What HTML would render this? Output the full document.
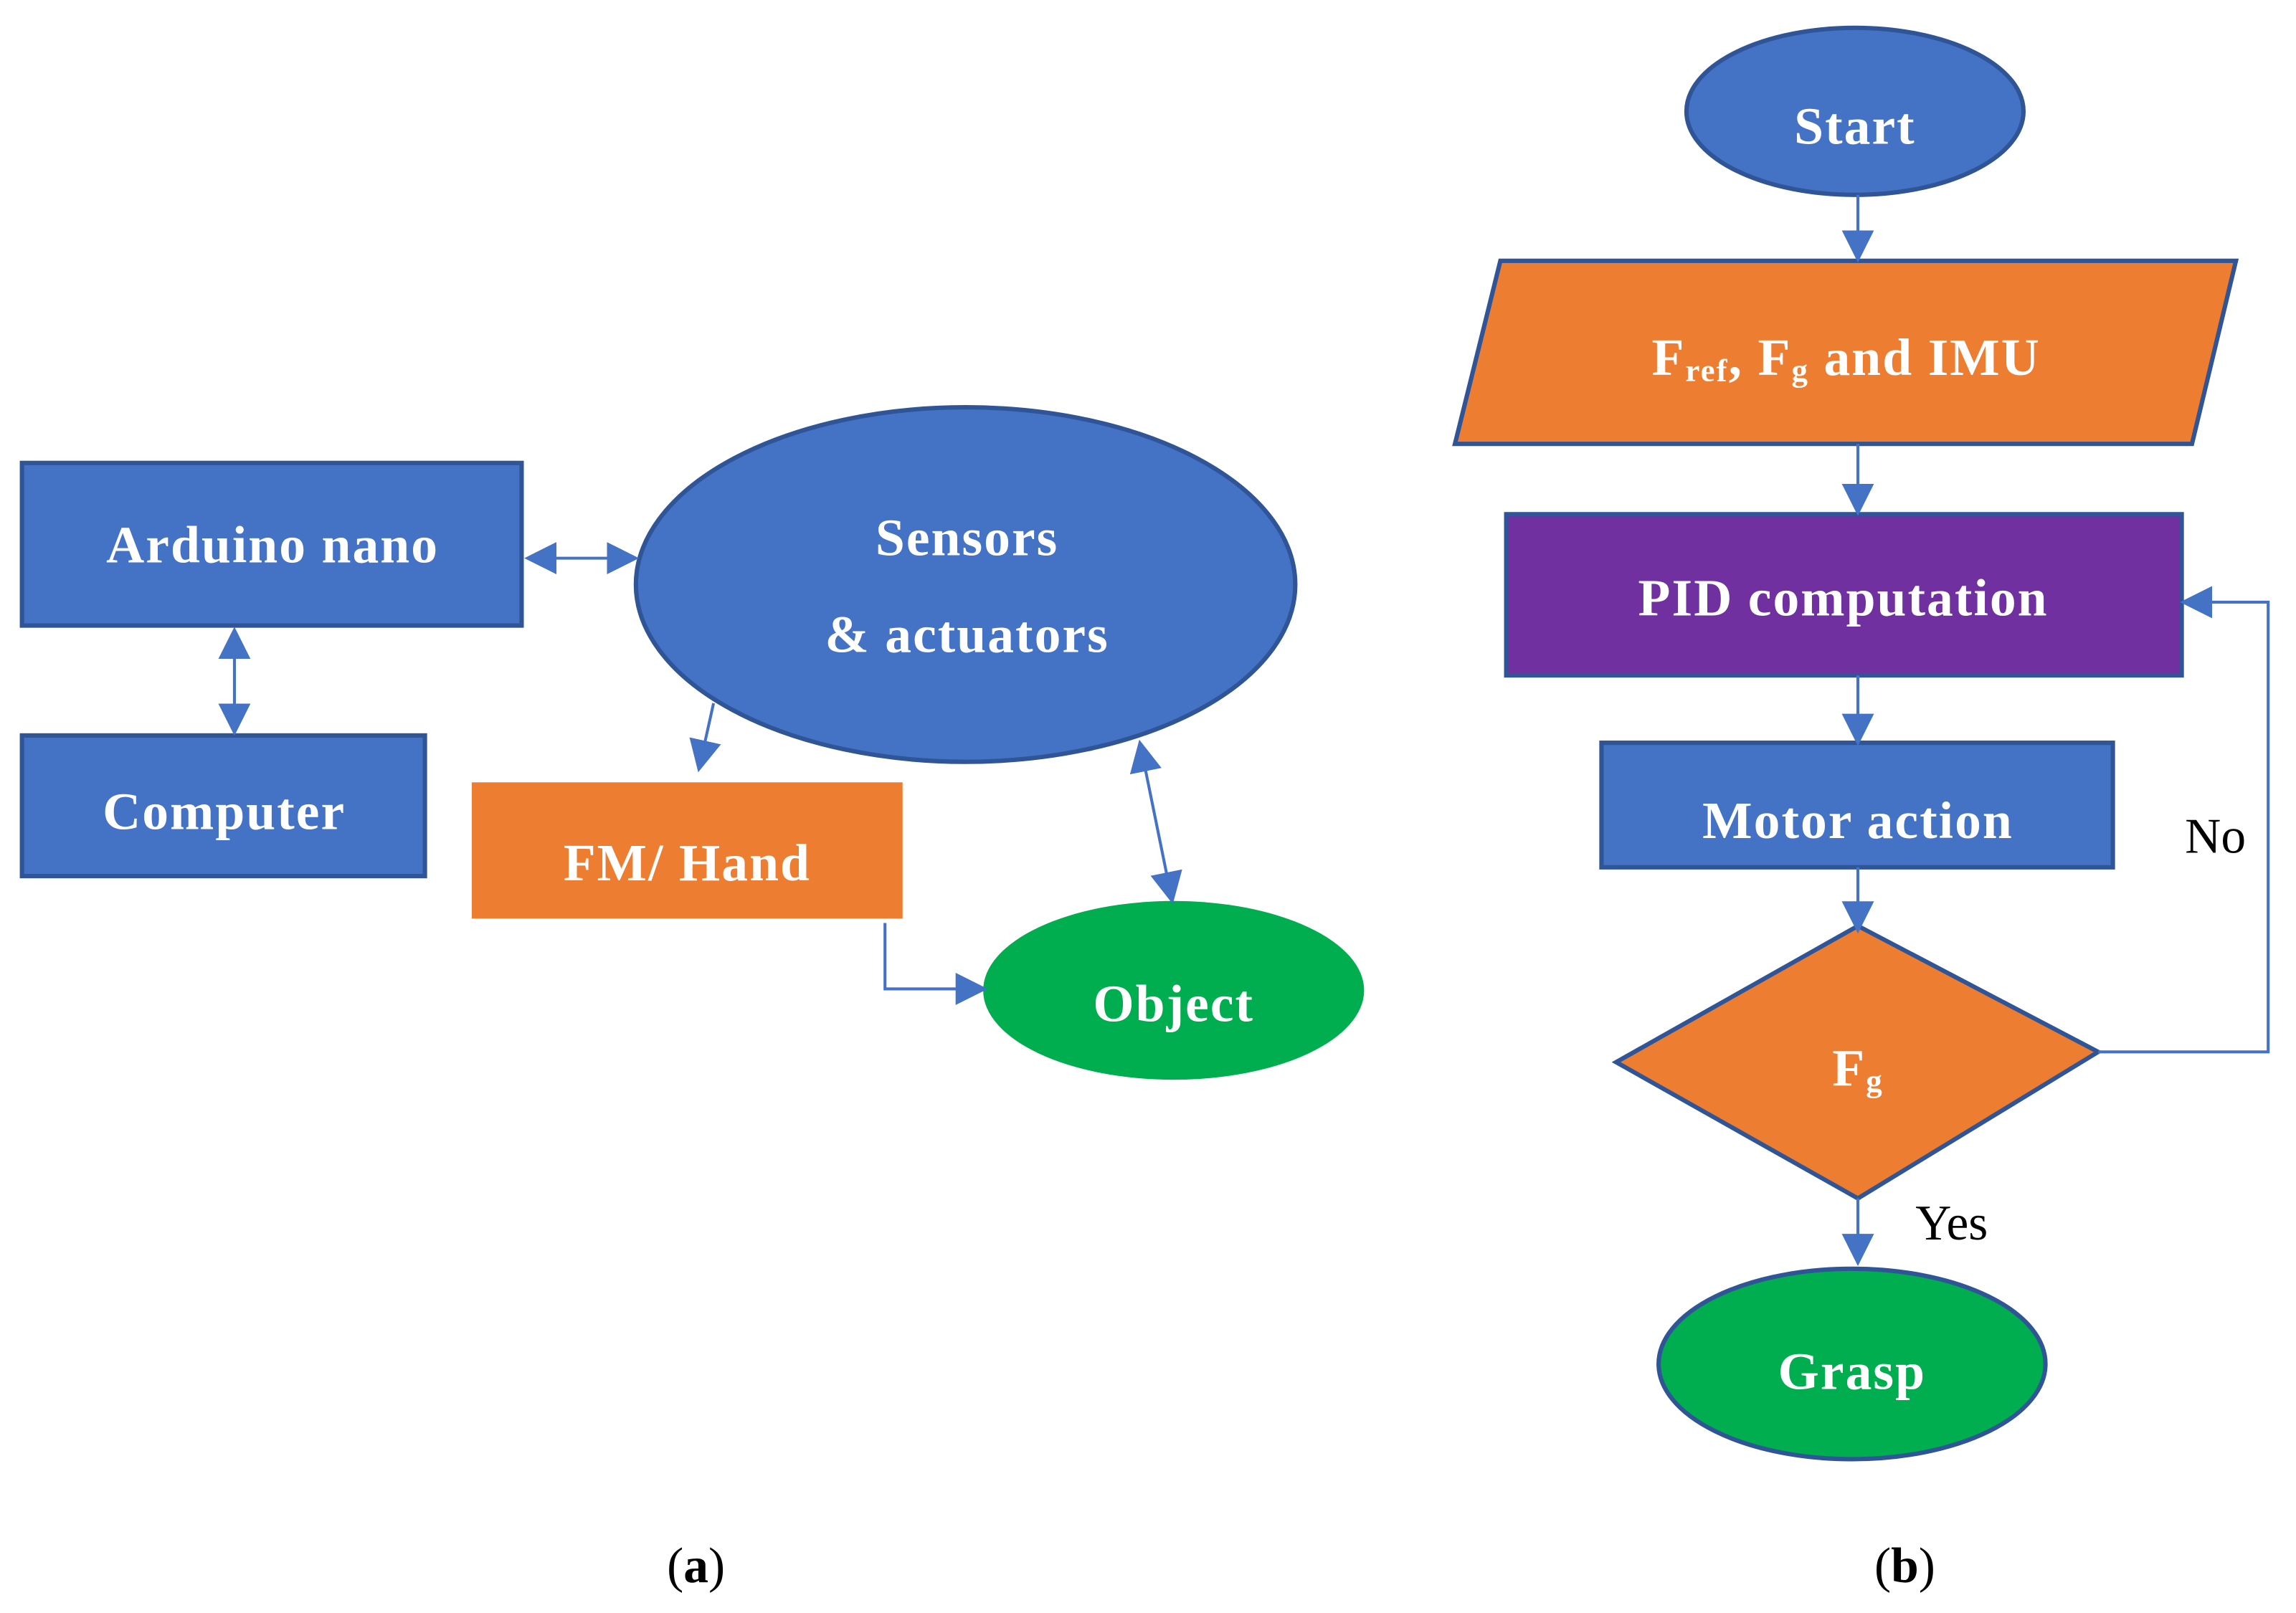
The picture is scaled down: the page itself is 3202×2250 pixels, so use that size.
<!DOCTYPE html>
<html><head><meta charset="utf-8"><style>html,body{margin:0;padding:0;background:#fff}svg{display:block}</style></head>
<body>
<svg width="3202" height="2250" viewBox="0 0 1567 1101" preserveAspectRatio="none" xmlns="http://www.w3.org/2000/svg" font-family="Liberation Serif, serif">
<defs>
<marker id="b" viewBox="0 0 10 10" refX="9" refY="5" markerWidth="22" markerHeight="22" orient="auto-start-reverse" markerUnits="userSpaceOnUse"><path d="M0,0 L10,5 L0,10z" fill="#4472C4"/></marker>
</defs>
<g stroke="#2F5597" stroke-width="3">
<rect x="15" y="316" width="341" height="111" fill="#4472C4"/>
<rect x="15" y="502" width="275" height="96" fill="#4472C4"/>
<ellipse cx="659" cy="399" rx="225" ry="121" fill="#4472C4"/>
<ellipse cx="1266" cy="76" rx="115" ry="57" fill="#4472C4"/>
<polygon points="1024,178 1526,178 1496,303 993,303" fill="#ED7D31"/>
<rect x="1028" y="351" width="461" height="110" fill="#7030A0"/>
<rect x="1093" y="507" width="349" height="85" fill="#4472C4"/>
<polygon points="1268,632 1432,718 1268,818 1103,725" fill="#ED7D31"/>
<ellipse cx="1264" cy="931" rx="132" ry="65" fill="#00AE4F"/>
</g>
<rect x="322" y="534" width="294" height="93" fill="#ED7D31"/>
<ellipse cx="801" cy="676" rx="130" ry="61" fill="#00AE4F"/>
<g stroke="#4472C4" stroke-width="2" fill="none">
<line x1="160" y1="430" x2="160" y2="500" marker-start="url(#b)" marker-end="url(#b)"/>
<line x1="360" y1="381" x2="434" y2="381" marker-start="url(#b)" marker-end="url(#b)"/>
<line x1="487" y1="480" x2="477" y2="525" marker-end="url(#b)"/>
<line x1="778" y1="507" x2="800" y2="615" marker-start="url(#b)" marker-end="url(#b)"/>
<polyline points="604,630 604,675 672,675" marker-end="url(#b)"/>
<line x1="1268" y1="133" x2="1268" y2="177" marker-end="url(#b)"/>
<line x1="1268" y1="303" x2="1268" y2="350" marker-end="url(#b)"/>
<line x1="1268" y1="461" x2="1268" y2="507" marker-end="url(#b)"/>
<line x1="1268" y1="592" x2="1268" y2="635" marker-end="url(#b)"/>
<line x1="1268" y1="818" x2="1268" y2="862" marker-end="url(#b)"/>
<polyline points="1432,718 1548,718 1548,411 1490,411" marker-end="url(#b)"/>
</g>
<g fill="#fff" font-weight="bold" font-size="36" text-anchor="middle" letter-spacing="1">
<text x="186" y="384">Arduino nano</text>
<text x="153" y="566">Computer</text>
<text x="660" y="379">Sensors</text>
<text x="660" y="445">&amp; actuators</text>
<text x="469" y="601">FM/ Hand</text>
<text x="801" y="697">Object</text>
<text x="1266" y="98">Start</text>
<text x="1260" y="256">F<tspan font-size="22" dy="4">ref</tspan><tspan dy="-4">, F</tspan><tspan font-size="22" dy="4">g</tspan><tspan dy="-4"> and IMU</tspan></text>
<text x="1258" y="420">PID computation</text>
<text x="1268" y="572">Motor action</text>
<text x="1268" y="741">F<tspan font-size="22" dy="4">g</tspan></text>
<text x="1264" y="948">Grasp</text>
</g>
<g fill="#000" font-size="34" text-anchor="middle">
<text x="1512" y="582">No</text>
<text x="1332" y="846">Yes</text>
<text x="475" y="1080">(<tspan font-weight="bold">a</tspan>)</text>
<text x="1300" y="1080">(<tspan font-weight="bold">b</tspan>)</text>
</g>
</svg>
</body></html>
